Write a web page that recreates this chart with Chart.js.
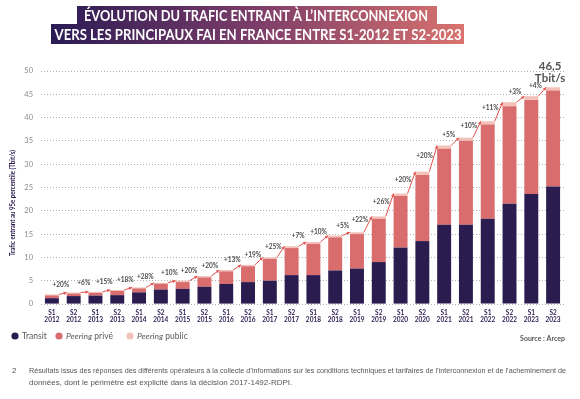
<!DOCTYPE html>
<html>
<head>
<meta charset="utf-8">
<script src="https://cdn.jsdelivr.net/npm/chart.js@4.4.1/dist/chart.umd.min.js"></script>
<style>
  html, body { margin: 0; padding: 0; background: #fff; }
  #chart { display: block; }
</style>
</head>
<body>
<canvas id="chart" width="580" height="399"></canvas>
<script>
// half-years S1 2012 -> S2 2023
const categories = [
    ["S1", "2012"], ["S2", "2012"], ["S1", "2013"], ["S2", "2013"], ["S1", "2014"], ["S2", "2014"],
    ["S1", "2015"], ["S2", "2015"], ["S1", "2016"], ["S2", "2016"], ["S1", "2017"], ["S2", "2017"],
    ["S1", "2018"], ["S2", "2018"], ["S1", "2019"], ["S2", "2019"], ["S1", "2020"], ["S2", "2020"],
    ["S1", "2021"], ["S2", "2021"], ["S1", "2022"], ["S2", "2022"], ["S1", "2023"], ["S2", "2023"],
];

// Tbit/s
const transit = [1.25, 1.7, 1.8, 1.9, 2.5, 3.1, 3.25, 3.7, 4.3, 4.7, 5.0, 6.2, 6.2, 7.2, 7.6, 9.0, 12.1, 13.5, 17.0, 17.0, 18.3, 21.5, 23.6, 25.2];
const peeringPrive = [0.6, 0.55, 0.6, 0.9, 0.85, 1.25, 1.45, 2.0, 2.7, 3.4, 4.7, 5.8, 6.7, 7.1, 7.4, 9.3, 11.1, 14.2, 16.3, 18.05, 20.2, 20.95, 20.2, 20.6];
const peeringPublic = [0.2, 0.2, 0.2, 0.2, 0.2, 0.2, 0.3, 0.3, 0.3, 0.3, 0.3, 0.4, 0.4, 0.4, 0.4, 0.5, 0.5, 0.7, 0.7, 0.65, 0.7, 0.85, 0.8, 0.7];

// growth between consecutive half-years
const growth = ["+20%", "+6%", "+15%", "+18%", "+28%", "+10%", "+20%", "+20%", "+13%", "+19%", "+25%", "+7%",
    "+10%", "+5%", "+22%", "+26%", "+20%", "+20%", "+5%", "+10%", "+11%", "+3%", "+4%"];

const yTicks = [0, 5, 10, 15, 20, 25, 30, 35, 40, 45, 50];
const lastTotal = "46,5";

const NAVY = "#2b1c50";
const PRIVE = "#d96c6c";
const PUBLIC = "#f3c1b8";
const ARROW = "#e2524f";

const totals = transit.map((t, i) => t + peeringPrive[i] + peeringPublic[i]);

const decorations = {
    id: "decorations",
    beforeDraw(chart) {
        const ctx = chart.ctx;
        ctx.save();
        ctx.fillStyle = "#fff";
        ctx.fillRect(0, 0, chart.width, chart.height);

        // title on gradient bands
        const grad = ctx.createLinearGradient(51, 0, 464, 0);
        grad.addColorStop(0, "#2a1b54");
        grad.addColorStop(0.5, "#7d3d69");
        grad.addColorStop(1, "#d9736e");
        ctx.fillStyle = grad;
        ctx.fillRect(77, 6, 360, 18);
        ctx.fillRect(51, 24, 413, 20);
        ctx.fillStyle = "#fff";
        ctx.font = "bold 14.5px Lato";
        ctx.textAlign = "center";
        ctx.textBaseline = "alphabetic";
        ctx.fillText("ÉVOLUTION DU TRAFIC ENTRANT À L\u2019INTERCONNEXION", 256, 20.5, 344);
        ctx.fillText("VERS LES PRINCIPAUX FAI EN FRANCE ENTRE S1-2012 ET S2-2023", 258, 40, 407);
        ctx.restore();
    },
    afterDatasetsDraw(chart) {
        const ctx = chart.ctx;
        const y = chart.scales.y;
        const bars = chart.getDatasetMeta(2).data;
        ctx.save();
        for (let i = 0; i < growth.length; i++) {
            const a = bars[i], b = bars[i + 1];
            const x1 = a.x + a.width / 2, y1 = y.getPixelForValue(totals[i]);
            const x2 = b.x - b.width / 2, y2 = y.getPixelForValue(totals[i + 1]);
            ctx.strokeStyle = ARROW;
            ctx.fillStyle = ARROW;
            ctx.lineWidth = 1;
            ctx.beginPath();
            ctx.moveTo(x1, y1);
            ctx.lineTo(x2, y2);
            ctx.stroke();
            const ang = Math.atan2(y2 - y1, x2 - x1);
            ctx.beginPath();
            ctx.moveTo(x2, y2);
            ctx.lineTo(x2 - 3.5 * Math.cos(ang - 0.5), y2 - 3.5 * Math.sin(ang - 0.5));
            ctx.lineTo(x2 - 3.5 * Math.cos(ang + 0.5), y2 - 3.5 * Math.sin(ang + 0.5));
            ctx.closePath();
            ctx.fill();

            // label sits on the upper-left side of the arrow
            const dx = x2 - x1, dy = y2 - y1, len = Math.hypot(dx, dy);
            const mx = (x1 + x2) / 2 + (dy / len) * 9;
            const my = (y1 + y2) / 2 + (-dx / len) * 9;
            ctx.fillStyle = "#4a4a4a";
            ctx.font = "bold 6.5px Lato";
            ctx.textAlign = "center";
            ctx.textBaseline = "middle";
            ctx.fillText(growth[i], mx, my);
        }
        // total on last bar
        const last = bars[bars.length - 1];
        const top = y.getPixelForValue(totals[totals.length - 1]);
        ctx.fillStyle = "#555";
        ctx.font = "bold 11.5px Lato";
        ctx.textAlign = "center";
        ctx.textBaseline = "middle";
        ctx.fillText(lastTotal, last.x - 3, top - 21);
        ctx.fillText("Tbit/s", last.x - 3, top - 9);
        ctx.restore();
    },
    afterDraw(chart) {
        const ctx = chart.ctx;
        const xs = chart.scales.x;
        ctx.save();
        // x labels, two lines each
        ctx.fillStyle = NAVY;
        ctx.font = "bold 6.5px Lato";
        ctx.textAlign = "center";
        ctx.textBaseline = "middle";
        categories.forEach((c, i) => {
            const x = xs.getPixelForValue(i);
            ctx.fillText(c[0], x, 313);
            ctx.fillText(c[1], x, 319.5);
        });

        // y axis title
        ctx.translate(12.5, 203);
        ctx.rotate(-Math.PI / 2);
        ctx.font = "bold 6.5px Lato";
        ctx.fillText("Trafic entrant au 95e percentile (Tbit/s)", 0, 0, 106);
        ctx.restore();

        // legend
        ctx.save();
        ctx.textBaseline = "middle";
        ctx.textAlign = "left";
        const ly = 336;
        const items = [
            { x: 15, color: NAVY, parts: [["Transit", "normal"]] },
            { x: 59, color: PRIVE, parts: [["Peering", "italic"], [" privé", "normal"]] },
            { x: 130, color: PUBLIC, parts: [["Peering", "italic"], [" public", "normal"]] },
        ];
        items.forEach(it => {
            ctx.fillStyle = it.color;
            ctx.beginPath();
            ctx.arc(it.x, ly, 3.6, 0, Math.PI * 2);
            ctx.fill();
            let tx = it.x + 7;
            ctx.fillStyle = "#5a5a5a";
            it.parts.forEach(([txt, style]) => {
                ctx.font = style + " 8.5px Lato";
                ctx.fillText(txt, tx, ly);
                tx += ctx.measureText(txt).width;
            });
        });

        // source
        ctx.fillStyle = "#555";
        ctx.font = "bold 7px Lato";
        ctx.textAlign = "right";
        ctx.fillText("Source : Arcep", 565, 339);

        // footnote
        ctx.fillStyle = "#555";
        ctx.font = "8px 'Liberation Sans'";
        ctx.textAlign = "left";
        ctx.fillText("2", 12, 371);
        ctx.fillText("Résultats issus des réponses des différents opérateurs à la collecte d\u2019informations sur les conditions techniques et tarifaires de l\u2019interconnexion et de l\u2019acheminement de", 29, 371, 537);
        ctx.fillText("données, dont le périmètre est explicité dans la décision 2017-1492-RDPI.", 29, 383);
        ctx.restore();
    },
};

new Chart(document.getElementById("chart"), {
    type: "bar",
    data: {
        labels: categories,
        datasets: [
            { label: "Transit", data: transit, backgroundColor: NAVY },
            { label: "Peering privé", data: peeringPrive, backgroundColor: PRIVE },
            { label: "Peering public", data: peeringPublic, backgroundColor: PUBLIC },
        ],
    },
    options: {
        responsive: false,
        animation: false,
        datasets: {
            bar: { categoryPercentage: 1, barPercentage: 0.64 },
        },
        layout: {
            padding: { left: 0, right: 16, top: 71, bottom: 75 },
        },
        plugins: {
            legend: { display: false },
            tooltip: { enabled: false },
        },
        scales: {
            x: {
                stacked: true,
                grid: { display: false },
                border: { display: false },
                ticks: { display: false },
                afterFit(scale) { scale.height = 20; },
            },
            y: {
                stacked: true,
                min: 0,
                max: 50,
                afterBuildTicks(scale) { scale.ticks = yTicks.map(v => ({ value: v })); },
                grid: { color: "#9a9a9a", lineWidth: 0.8, drawTicks: false },
                border: { display: false, dash: [1, 2] },
                ticks: {
                    color: "#8c8c8c",
                    font: { family: "Lato", size: 7.5 },
                    padding: 8,
                },
                afterFit(scale) { scale.width = 41; },
            },
        },
    },
    plugins: [decorations],
});
</script>
</body>
</html>
